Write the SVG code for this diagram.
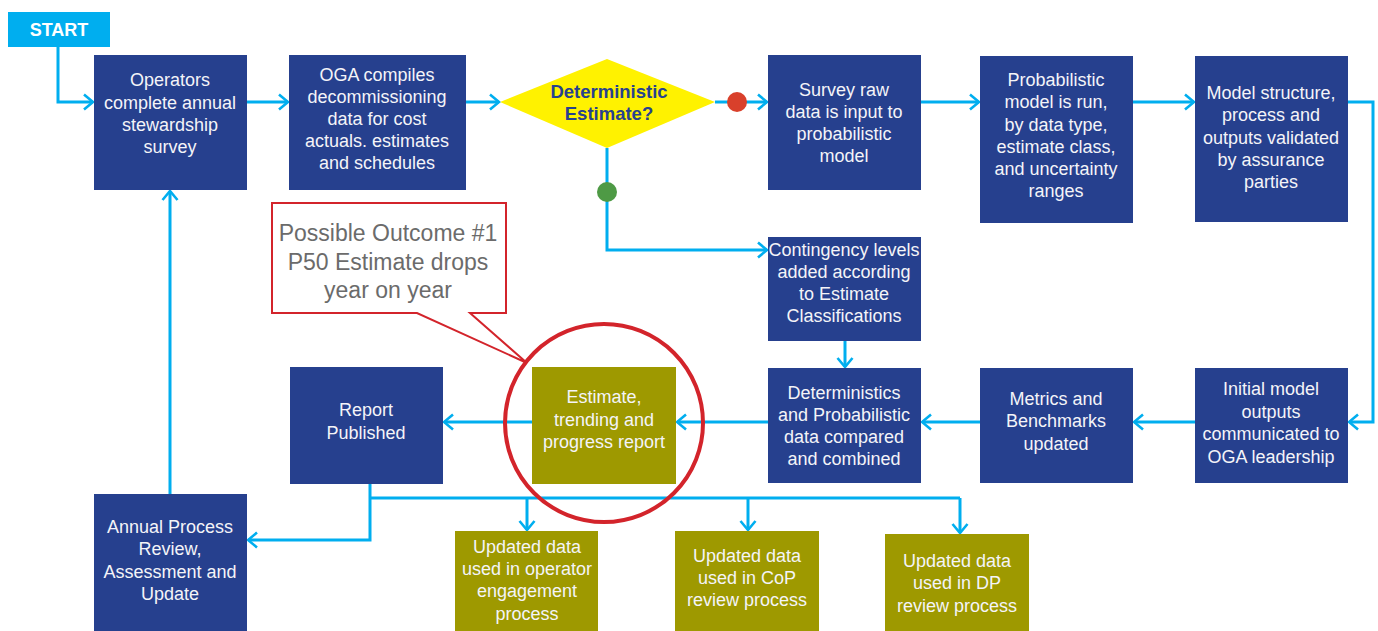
<svg xmlns="http://www.w3.org/2000/svg" width="1378" height="631" viewBox="0 0 1378 631">
<defs>
<marker id="arr" viewBox="0 0 12 18" markerWidth="12" markerHeight="18" refX="10.5" refY="9" orient="auto" markerUnits="userSpaceOnUse">
<path d="M1.5 1.5 L10.5 9 L1.5 16.5" fill="none" stroke="#00AEEF" stroke-width="2.6"/>
</marker>
<style>
.c{fill:none;stroke:#00AEEF;stroke-width:3}
.a{marker-end:url(#arr)}
.b{fill:#26408E}
.o{fill:#9E9900}
.t{font-family:"Liberation Sans",Arial,sans-serif;font-size:18px;fill:#F4F4F8;text-anchor:middle}
</style>
</defs>
<rect width="1378" height="631" fill="#fff"/>
<g id="connectors">
<path class="c a" d="M58 47 V102 H93"/>
<path class="c a" d="M247 102 H288"/>
<path class="c a" d="M466 102 H499"/>
<path class="c a" d="M715 102 H767"/>
<path class="c a" d="M921 102 H979"/>
<path class="c a" d="M1133 102 H1194"/>
<path class="c a" d="M1348 102 H1373 V422 H1349"/>
<path class="c a" d="M1195 422 H1134"/>
<path class="c a" d="M980 422 H922"/>
<path class="c a" d="M768 422 H677"/>
<path class="c a" d="M532 422 H444"/>
<path class="c a" d="M607 148 V250 H767"/>
<path class="c a" d="M845 341 V367"/>
<path class="c a" d="M170 494 V191"/>
<path class="c a" d="M370 484 V540 H248"/>
<path class="c" d="M370 498 H960"/>
<path class="c a" d="M527 498 V530"/>
<path class="c a" d="M748 498 V530"/>
<path class="c a" d="M960 498 V533"/>
<circle cx="737" cy="102" r="10" fill="#D9402B"/>
<circle cx="607" cy="192" r="10" fill="#4E9A45"/>
</g>
<g id="start">
<rect x="8" y="12" width="102" height="35" fill="#00AEEF"/>
<text x="59" y="36" class="t" style="font-weight:bold;font-size:18px;fill:#fff">START</text>
</g>
<g id="n1">
<rect class="b" x="94" y="55" width="153" height="135"/>
<text class="t"><tspan x="170" y="86">Operators</tspan><tspan x="170" y="109">complete annual</tspan><tspan x="170" y="131">stewardship</tspan><tspan x="170" y="153">survey</tspan></text>
</g>
<g id="n2">
<rect class="b" x="289" y="55" width="177" height="135"/>
<text class="t"><tspan x="377" y="81">OGA compiles</tspan><tspan x="377" y="103">decommissioning</tspan><tspan x="377" y="125">data for cost</tspan><tspan x="377" y="147">actuals. estimates</tspan><tspan x="377" y="169">and schedules</tspan></text>
</g>
<g id="decision">
<polygon points="500,102 607,59 715,102 607,148" fill="#FFF200"/>
<text class="t" style="font-weight:bold;font-size:18.5px;fill:#27418F"><tspan x="609" y="98">Deterministic</tspan><tspan x="609" y="120">Estimate?</tspan></text>
</g>
<g id="n3">
<rect class="b" x="768" y="55" width="153" height="135"/>
<text class="t"><tspan x="844" y="96">Survey raw</tspan><tspan x="844" y="118">data is input to</tspan><tspan x="844" y="140">probabilistic</tspan><tspan x="844" y="162">model</tspan></text>
</g>
<g id="n4">
<rect class="b" x="980" y="56" width="153" height="167"/>
<text class="t"><tspan x="1056" y="86">Probabilistic</tspan><tspan x="1056" y="108">model is run,</tspan><tspan x="1056" y="131">by data type,</tspan><tspan x="1056" y="153">estimate class,</tspan><tspan x="1056" y="175">and uncertainty</tspan><tspan x="1056" y="197">ranges</tspan></text>
</g>
<g id="n5">
<rect class="b" x="1195" y="56" width="153" height="166"/>
<text class="t"><tspan x="1271" y="99">Model structure,</tspan><tspan x="1271" y="121">process and</tspan><tspan x="1271" y="144">outputs validated</tspan><tspan x="1271" y="166">by assurance</tspan><tspan x="1271" y="188">parties</tspan></text>
</g>
<g id="n6">
<rect class="b" x="768" y="237" width="153" height="104"/>
<text class="t"><tspan x="844" y="256">Contingency levels</tspan><tspan x="844" y="278">added according</tspan><tspan x="844" y="300">to Estimate</tspan><tspan x="844" y="322">Classifications</tspan></text>
</g>
<g id="n7">
<rect class="b" x="1195" y="368" width="153" height="115"/>
<text class="t"><tspan x="1271" y="395">Initial model</tspan><tspan x="1271" y="418">outputs</tspan><tspan x="1271" y="440">communicated to</tspan><tspan x="1271" y="463">OGA leadership</tspan></text>
</g>
<g id="n8">
<rect class="b" x="980" y="368" width="153" height="115"/>
<text class="t"><tspan x="1056" y="405">Metrics and</tspan><tspan x="1056" y="427">Benchmarks</tspan><tspan x="1056" y="450">updated</tspan></text>
</g>
<g id="n9">
<rect class="b" x="768" y="368" width="153" height="115"/>
<text class="t"><tspan x="844" y="399">Deterministics</tspan><tspan x="844" y="421">and Probabilistic</tspan><tspan x="844" y="443">data compared</tspan><tspan x="844" y="465">and combined</tspan></text>
</g>
<g id="n10">
<rect class="o" x="532" y="367" width="144" height="117"/>
<text class="t"><tspan x="604" y="403">Estimate,</tspan><tspan x="604" y="426">trending and</tspan><tspan x="604" y="448">progress report</tspan></text>
</g>
<g id="n11">
<rect class="b" x="290" y="367" width="153" height="117"/>
<text class="t"><tspan x="366" y="416">Report</tspan><tspan x="366" y="439">Published</tspan></text>
</g>
<g id="n12">
<rect class="b" x="94" y="494" width="153" height="137"/>
<text class="t"><tspan x="170" y="533">Annual Process</tspan><tspan x="170" y="555">Review,</tspan><tspan x="170" y="578">Assessment and</tspan><tspan x="170" y="600">Update</tspan></text>
</g>
<g id="n13">
<rect class="o" x="455" y="531" width="143" height="100"/>
<text class="t"><tspan x="527" y="553">Updated data</tspan><tspan x="527" y="575">used in operator</tspan><tspan x="527" y="597">engagement</tspan><tspan x="527" y="620">process</tspan></text>
</g>
<g id="n14">
<rect class="o" x="675" y="531" width="144" height="100"/>
<text class="t"><tspan x="747" y="562">Updated data</tspan><tspan x="747" y="584">used in CoP</tspan><tspan x="747" y="606">review process</tspan></text>
</g>
<g id="n15">
<rect class="o" x="885" y="534" width="144" height="97"/>
<text class="t"><tspan x="957" y="567">Updated data</tspan><tspan x="957" y="589">used in DP</tspan><tspan x="957" y="612">review process</tspan></text>
</g>
<g id="highlight">
<circle cx="604" cy="423" r="99" fill="none" stroke="#D3242B" stroke-width="4"/>
</g>
<g id="callout">
<path d="M272 203 H506 V313 H470 L527 363 L417 313 H272 Z" fill="#fff" stroke="#D3242B" stroke-width="2"/>
<text style="font-family:'Liberation Sans',Arial,sans-serif;font-size:23px;fill:#6B6B6B;text-anchor:middle"><tspan x="388" y="241">Possible Outcome #1</tspan><tspan x="388" y="270">P50 Estimate drops</tspan><tspan x="388" y="298">year on year</tspan></text>
</g>
</svg>
